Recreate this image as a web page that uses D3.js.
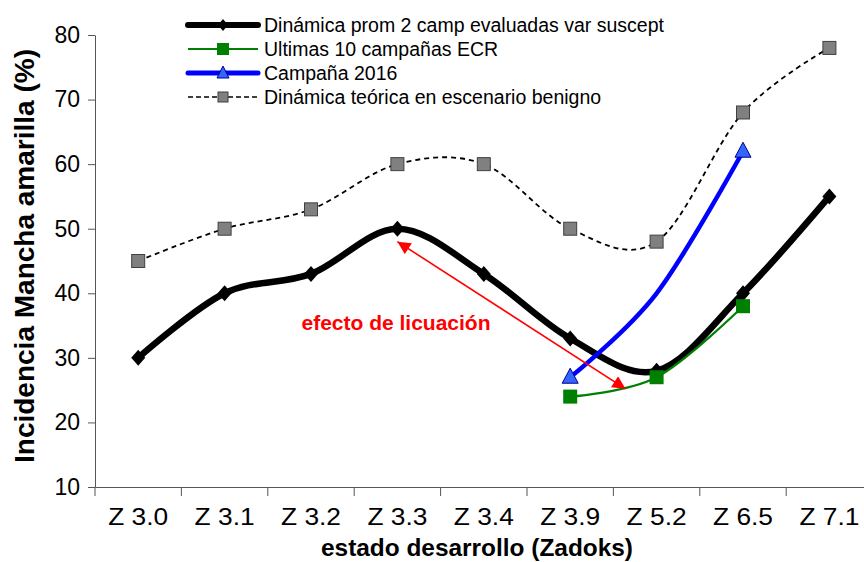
<!DOCTYPE html>
<html>
<head>
<meta charset="utf-8" />
<title>Incidencia Mancha amarilla</title>
<script src="https://d3js.org/d3.v7.min.js"></script>
<style>
  body { margin: 0; background: #fff; }
  svg { display: block; font-family: "Liberation Sans", Arial, sans-serif; }
</style>
</head>
<body>
<div id="viz"></div>
<script>
// data
var categories = ["Z 3.0", "Z 3.1", "Z 3.2", "Z 3.3", "Z 3.4", "Z 3.9", "Z 5.2", "Z 6.5", "Z 7.1"];
var promValues = [30, 40, 43, 50, 43, 33, 28, 40, 55];
var ecrCats = ["Z 3.9", "Z 5.2", "Z 6.5"];
var ecrValues = [24, 27, 38];
var c2016Cats = ["Z 3.9", "Z 5.2", "Z 6.5"];
var c2016Values = [27, 40, 62];
var c2016Markers = [true, false, true];
var benignoValues = [45, 50, 53, 60, 60, 50, 48, 68, 78];
var yTicks = [10, 20, 30, 40, 50, 60, 70, 80];
var legendLabels = [
  "Dinámica prom 2 camp evaluadas var suscept",
  "Ultimas 10 campañas ECR",
  "Campaña 2016",
  "Dinámica teórica en escenario benigno"
];
// arrow: category index (fractional) and value at each end
var arrowFrom = [3, 48];
var arrowTo = [5.64, 25.2];

var W = 864, H = 562;
var plotLeft = 95, plotTop = 35, plotBottom = 487;
var band = 86.4;

var svg = d3.select("#viz").append("svg")
    .attr("width", W)
    .attr("height", H);

var x = d3.scaleBand().domain(categories).range([plotLeft, plotLeft + band * categories.length]);
var y = d3.scaleLinear().domain([10, 80]).range([plotBottom, plotTop]);
var cx = function(c) { return x(c) + x.bandwidth() / 2; };
var xi = function(i) { return plotLeft + band * (i + 0.5); };

var defs = svg.append("defs");
defs.append("marker")
    .attr("id", "ah")
    .attr("viewBox", "0 0 10 10")
    .attr("refX", 10).attr("refY", 5)
    .attr("markerWidth", 14).attr("markerHeight", 13)
    .attr("markerUnits", "userSpaceOnUse")
    .attr("orient", "auto-start-reverse")
  .append("path")
    .attr("d", "M0,0 L10,5 L0,10 Z")
    .attr("fill", "#ff0000");

// axes
var yAxis = svg.append("g")
    .attr("transform", "translate(" + plotLeft + ",0)")
    .call(d3.axisLeft(y).tickValues(yTicks).tickSize(7).tickSizeOuter(0).tickPadding(8));
yAxis.select(".domain").attr("stroke", "#555");
yAxis.selectAll(".tick line").attr("stroke", "#555");
yAxis.selectAll("text").attr("font-size", 23).attr("fill", "#000")
    .attr("font-family", "Liberation Sans, Arial, sans-serif");

var xAxis = svg.append("g")
    .attr("transform", "translate(0," + plotBottom + ")")
    .call(d3.axisBottom(x).tickSize(0).tickSizeOuter(0).tickPadding(0));
xAxis.select(".domain").attr("stroke", "#555");
xAxis.selectAll(".tick text")
    .attr("font-size", 24)
    .attr("fill", "#000")
    .attr("dy", 0)
    .attr("y", 38)
    .attr("textLength", 60)
    .attr("lengthAdjust", "spacingAndGlyphs");
// category separators
xAxis.selectAll(".sep")
    .data(d3.range(categories.length + 1))
    .enter().append("line")
    .attr("x1", function(i) { return plotLeft + band * i; })
    .attr("x2", function(i) { return plotLeft + band * i; })
    .attr("y1", 0).attr("y2", 9)
    .attr("stroke", "#555");

// axis titles
svg.append("text")
    .attr("x", 477).attr("y", 556)
    .attr("text-anchor", "middle")
    .attr("font-size", 24).attr("font-weight", "bold")
    .attr("textLength", 312)
    .attr("lengthAdjust", "spacingAndGlyphs")
    .text("estado desarrollo (Zadoks)");

svg.append("text")
    .attr("transform", "translate(34,256) rotate(-90)")
    .attr("text-anchor", "middle")
    .attr("font-size", 27).attr("font-weight", "bold")
    .attr("textLength", 414)
    .attr("lengthAdjust", "spacingAndGlyphs")
    .text("Incidencia Mancha amarilla (%)");

var smooth = d3.line().curve(d3.curveCardinal.tension(0));

// benigno dashed
var benPts = categories.map(function(c, i) { return [cx(c), y(benignoValues[i])]; });
svg.append("path")
    .attr("d", smooth(benPts))
    .attr("fill", "none").attr("stroke", "#000")
    .attr("stroke-width", 1.8).attr("stroke-dasharray", "5,4");
svg.selectAll(".ben").data(benPts).enter().append("rect")
    .attr("x", function(d) { return d[0] - 6.5; })
    .attr("y", function(d) { return d[1] - 6.5; })
    .attr("width", 13).attr("height", 13)
    .attr("fill", "#808080").attr("stroke", "#404040").attr("stroke-width", 1);

// black prom
var promPts = categories.map(function(c, i) { return [cx(c), y(promValues[i])]; });
svg.append("path")
    .attr("d", smooth(promPts))
    .attr("fill", "none").attr("stroke", "#000").attr("stroke-width", 6.5);
svg.selectAll(".prom").data(promPts).enter().append("path")
    .attr("transform", function(d) { return "translate(" + d[0] + "," + d[1] + ")"; })
    .attr("d", "M0,-8 L7,0 L0,8 L-7,0 Z")
    .attr("fill", "#000");

// blue 2016
var bluePts = c2016Cats.map(function(c, i) { return [cx(c), y(c2016Values[i])]; });
svg.append("path")
    .attr("d", smooth(bluePts))
    .attr("fill", "none").attr("stroke", "#0000ff").attr("stroke-width", 4.5);
svg.selectAll(".blue").data(bluePts.filter(function(d, i) { return c2016Markers[i]; }))
  .enter().append("path")
    .attr("transform", function(d) { return "translate(" + d[0] + "," + d[1] + ")"; })
    .attr("d", "M0,-9 L8,6 L-8,6 Z")
    .attr("fill", "#3366ff").attr("stroke", "#00008b").attr("stroke-width", 1);

// green ECR
var greenPts = ecrCats.map(function(c, i) { return [cx(c), y(ecrValues[i])]; });
svg.append("path")
    .attr("d", smooth(greenPts))
    .attr("fill", "none").attr("stroke", "#008000").attr("stroke-width", 2.2);
svg.selectAll(".green").data(greenPts).enter().append("rect")
    .attr("x", function(d) { return d[0] - 7; })
    .attr("y", function(d) { return d[1] - 7; })
    .attr("width", 14).attr("height", 14)
    .attr("fill", "#008000");

// annotation arrow
svg.append("line")
    .attr("x1", xi(arrowFrom[0])).attr("y1", y(arrowFrom[1]))
    .attr("x2", xi(arrowTo[0])).attr("y2", y(arrowTo[1]))
    .attr("stroke", "#ff0000").attr("stroke-width", 1.6)
    .attr("marker-start", "url(#ah)").attr("marker-end", "url(#ah)");
svg.append("text")
    .attr("x", 396).attr("y", 330)
    .attr("text-anchor", "middle")
    .attr("font-size", 21).attr("font-weight", "bold")
    .attr("fill", "#ff0000")
    .text("efecto de licuación");

// legend
var lg = svg.append("g").attr("transform", "translate(188,25)");
var rowH = 24;
legendLabels.forEach(function(lab, i) {
  var g = lg.append("g").attr("transform", "translate(0," + (i * rowH) + ")");
  var ln = g.append("line").attr("x1", 0).attr("x2", 70).attr("y1", 0).attr("y2", 0);
  if (i === 0) {
    ln.attr("stroke", "#000").attr("stroke-width", 6).attr("stroke-linecap", "round");
    g.append("path").attr("transform", "translate(35,0)").attr("d", "M0,-6 L5,0 L0,6 L-5,0 Z").attr("fill", "#000");
  } else if (i === 1) {
    ln.attr("stroke", "#008000").attr("stroke-width", 2);
    g.append("rect").attr("x", 29).attr("y", -6).attr("width", 12).attr("height", 12).attr("fill", "#008000");
  } else if (i === 2) {
    ln.attr("stroke", "#0000ff").attr("stroke-width", 5).attr("stroke-linecap", "round");
    g.append("path").attr("transform", "translate(35,0)").attr("d", "M0,-7 L6,5 L-6,5 Z")
      .attr("fill", "#3366ff").attr("stroke", "#00008b").attr("stroke-width", 1);
  } else {
    ln.attr("stroke", "#000").attr("stroke-width", 1.6).attr("stroke-dasharray", "5,3");
    g.append("rect").attr("x", 30).attr("y", -5).attr("width", 10).attr("height", 10)
      .attr("fill", "#808080").attr("stroke", "#404040").attr("stroke-width", 1);
  }
  g.append("text")
    .attr("x", 76).attr("y", 7)
    .attr("font-size", 19.5)
    .text(lab);
});
</script>
</body>
</html>
